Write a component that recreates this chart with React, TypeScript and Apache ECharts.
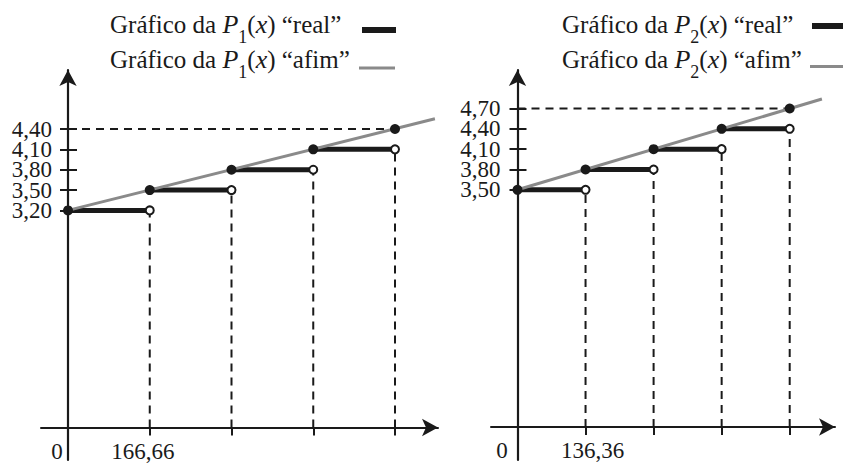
import React, { useEffect, useRef } from "react";
import * as echarts from "echarts";

const FONT = "Liberation Serif";
const INK = "#1a1a1a";
const GRAY = "#8a8a8a";

// ---- P1 data ----
const p1Breaks = [0, 166.66, 333.32, 499.98, 666.64];
const p1Levels = [3.2, 3.5, 3.8, 4.1, 4.4];
const p1AffineStart = [0, 3.2];
const p1AffineEnd = [748, 4.55];
const p1YTicks = [3.2, 3.5, 3.8, 4.1, 4.4];
const p1XLabels = [0, 166.66];

// ---- P2 data ----
const p2Breaks = [0, 136.36, 272.72, 409.08, 545.44];
const p2Levels = [3.5, 3.8, 4.1, 4.4, 4.7];
const p2AffineStart = [0, 3.5];
const p2AffineEnd = [610, 4.84];
const p2YTicks = [3.5, 3.8, 4.1, 4.4, 4.7];
const p2XLabels = [0, 136.36];

const fmt = (v: number) => v.toFixed(2).replace(".", ",");

const panels = [
  {
    name: "1",
    breaks: p1Breaks,
    levels: p1Levels,
    affine: [p1AffineStart, p1AffineEnd],
    yTicks: p1YTicks,
    xLabels: p1XLabels,
    lay: { left: 41, originX: 68, xEnd: 438, stepPx: 81.75, originY: 427.5, top: 70, bottom: 460, pxPerY: 67.84 },
    zeroPad: [0, 22, 0, 0],
    valPad: [0, 14, 0, 0],
    yLabelMargin: 16,
  },
  {
    name: "2",
    breaks: p2Breaks,
    levels: p2Levels,
    affine: [p2AffineStart, p2AffineEnd],
    yTicks: p2YTicks,
    xLabels: p2XLabels,
    lay: { left: 491, originX: 517.5, xEnd: 835, stepPx: 68.05, originY: 427, top: 70, bottom: 460, pxPerY: 67.77 },
    zeroPad: [0, 31, 0, 0],
    valPad: [0, 0, 0, 14],
    yLabelMargin: 17,
  },
];

function buildOption() {
  const grid: any[] = [];
  const xAxis: any[] = [];
  const yAxis: any[] = [];
  const series: any[] = [];

  panels.forEach((p, gi) => {
    const L = p.lay;
    const pxPerX = L.stepPx / p.breaks[1];
    const xMin = -(L.originX - L.left) / pxPerX;
    const xMax = (L.xEnd - L.originX) / pxPerX;
    const yMin = -(L.bottom - L.originY) / L.pxPerY;
    const yMax = (L.originY - L.top) / L.pxPerY;

    grid.push({
      left: L.left,
      top: L.top,
      width: L.xEnd - L.left,
      height: L.bottom - L.top,
      outerBoundsMode: "none",
      containLabel: false,
    });

    xAxis.push({
      type: "value",
      gridIndex: gi,
      min: xMin,
      max: xMax,
      position: "bottom",
      offset: -(L.bottom - L.originY),
      splitLine: { show: false },
      axisLine: {
        show: true,
        onZero: false,
        symbol: ["none", "arrow"],
        symbolSize: [13, 16],
        lineStyle: { color: INK, width: 2 },
      },
      axisTick: {
        show: true,
        length: 8,
        customValues: p.breaks.slice(1),
        lineStyle: { color: INK, width: 2 },
      },
      axisLabel: {
        show: true,
        customValues: p.xLabels,
        margin: 12,
        hideOverlap: false,
        showMinLabel: true,
        showMaxLabel: true,
        formatter: (v: number) => (v === 0 ? "{z|0}" : "{v|" + fmt(v) + "}"),
        rich: {
          z: { fontFamily: FONT, fontSize: 23, color: INK, padding: p.zeroPad },
          v: { fontFamily: FONT, fontSize: 23, color: INK, padding: p.valPad },
        },
      },
    });

    const yLabelBase = {
      show: true,
      margin: p.yLabelMargin,
      hideOverlap: false,
      showMinLabel: true,
      showMaxLabel: true,
      interval: 0,
      fontFamily: FONT,
      fontSize: 23,
      lineHeight: 19,
      color: INK,
      formatter: (v: number) => fmt(v),
    };

    // main y axis (line + outward ticks + even labels)
    yAxis.push({
      type: "value",
      gridIndex: gi,
      min: yMin,
      max: yMax,
      position: "left",
      offset: -(L.originX - L.left),
      splitLine: { show: false },
      axisLine: {
        show: true,
        onZero: false,
        symbol: ["none", "arrow"],
        symbolSize: [13, 16],
        lineStyle: { color: INK, width: 2.2 },
      },
      axisTick: { show: true, length: 8, customValues: p.yTicks, lineStyle: { color: INK, width: 2 } },
      axisLabel: { ...yLabelBase, customValues: p.yTicks.filter((_, i) => i % 2 === 0) },
    });
    // helper y axis: inward half of the crossing ticks + odd labels
    yAxis.push({
      type: "value",
      gridIndex: gi,
      min: yMin,
      max: yMax,
      position: "left",
      offset: -(L.originX - L.left),
      splitLine: { show: false },
      axisLine: { show: false, onZero: false },
      axisTick: { show: true, inside: true, length: 9, customValues: p.yTicks, lineStyle: { color: INK, width: 2 } },
      axisLabel: { ...yLabelBase, customValues: p.yTicks.filter((_, i) => i % 2 === 1) },
    });

    const yIdx = gi * 2;
    const base = { xAxisIndex: gi, yAxisIndex: yIdx, silent: true, animation: false };
    const n = p.breaks.length;

    // dashed verticals up to the open circles
    for (let i = 0; i < n - 1; i++) {
      series.push({
        ...base,
        type: "line",
        symbol: "none",
        z: 1,
        data: [
          [p.breaks[i + 1], 0],
          [p.breaks[i + 1], p.levels[i]],
        ],
        lineStyle: { color: INK, width: 2, type: [8, 6] },
      });
    }
    // dashed horizontal to last level
    series.push({
      ...base,
      type: "line",
      symbol: "none",
      z: 1,
      data: [
        [0, p.levels[n - 1]],
        [p.breaks[n - 1], p.levels[n - 1]],
      ],
      lineStyle: { color: INK, width: 2, type: [8, 6] },
    });
    // step segments ("real")
    for (let i = 0; i < n - 1; i++) {
      series.push({
        ...base,
        type: "line",
        symbol: "none",
        z: 2,
        data: [
          [p.breaks[i], p.levels[i]],
          [p.breaks[i + 1], p.levels[i]],
        ],
        lineStyle: { color: INK, width: 5, cap: "butt" },
      });
    }
    // affine line
    series.push({
      ...base,
      type: "line",
      symbol: "none",
      z: 3,
      data: p.affine,
      lineStyle: { color: GRAY, width: 3 },
    });
    // closed dots
    series.push({
      ...base,
      type: "scatter",
      z: 5,
      symbol: "circle",
      symbolSize: 10,
      itemStyle: { color: INK, opacity: 1 },
      data: p.breaks.map((x, i) => [x, p.levels[i]]),
    });
    // open dots
    series.push({
      ...base,
      type: "scatter",
      z: 6,
      symbol: "circle",
      symbolSize: 8,
      itemStyle: { color: "#ffffff", borderColor: INK, borderWidth: 2, opacity: 1 },
      data: p.breaks.slice(1).map((x, i) => [x, p.levels[i]]),
    });
  });

  const rich = {
    n: { fontFamily: FONT, fontSize: 25, lineHeight: 30, fill: INK },
    i: { fontFamily: FONT, fontSize: 26, fontStyle: "italic", lineHeight: 30, fill: INK },
    s: { fontFamily: FONT, fontSize: 18, lineHeight: 30, fill: INK, padding: [26, 0, 0, 0] },
  };
  const legendText = (k: string, word: string) =>
    "{n|Gráfico da }{i|P}{s|" + k + "}{n|(}{i|x}{n|) " + word + "}";

  const graphic: any[] = [];
  const legendPos = [
    { x: 110, real: { x: 362, y: 27, w: 34, h: 6 }, afim: { x: 359, y: 66.5, w: 36, h: 3 } },
    { x: 562, real: { x: 812, y: 23, w: 31, h: 6 }, afim: { x: 810, y: 65, w: 33, h: 3 } },
  ];
  panels.forEach((p, gi) => {
    const lp = legendPos[gi];
    graphic.push({
      type: "text",
      silent: true,
      style: { x: lp.x, y: 24, text: legendText(p.name, "“real”"), rich, fill: INK, verticalAlign: "middle", align: "left" },
    });
    graphic.push({
      type: "text",
      silent: true,
      style: { x: lp.x, y: 59, text: legendText(p.name, "“afim”"), rich, fill: INK, verticalAlign: "middle", align: "left" },
    });
    graphic.push({
      type: "rect",
      silent: true,
      shape: { x: lp.real.x, y: lp.real.y, width: lp.real.w, height: lp.real.h },
      style: { fill: INK },
    });
    graphic.push({
      type: "rect",
      silent: true,
      shape: { x: lp.afim.x, y: lp.afim.y, width: lp.afim.w, height: lp.afim.h },
      style: { fill: GRAY },
    });
  });

  return {
    animation: false,
    backgroundColor: "#ffffff",
    grid,
    xAxis,
    yAxis,
    series,
    graphic,
  };
}

export default function App() {
  const ref = useRef<HTMLDivElement>(null);
  useEffect(() => {
    if (!ref.current) return;
    const chart = echarts.init(ref.current, undefined, { renderer: "svg" });
    chart.setOption(buildOption() as any);
    return () => chart.dispose();
  }, []);
  return (
    <div
      ref={ref}
      style={{ position: "fixed", left: 0, top: 0, width: 843, height: 466, background: "#fff" }}
    />
  );
}
